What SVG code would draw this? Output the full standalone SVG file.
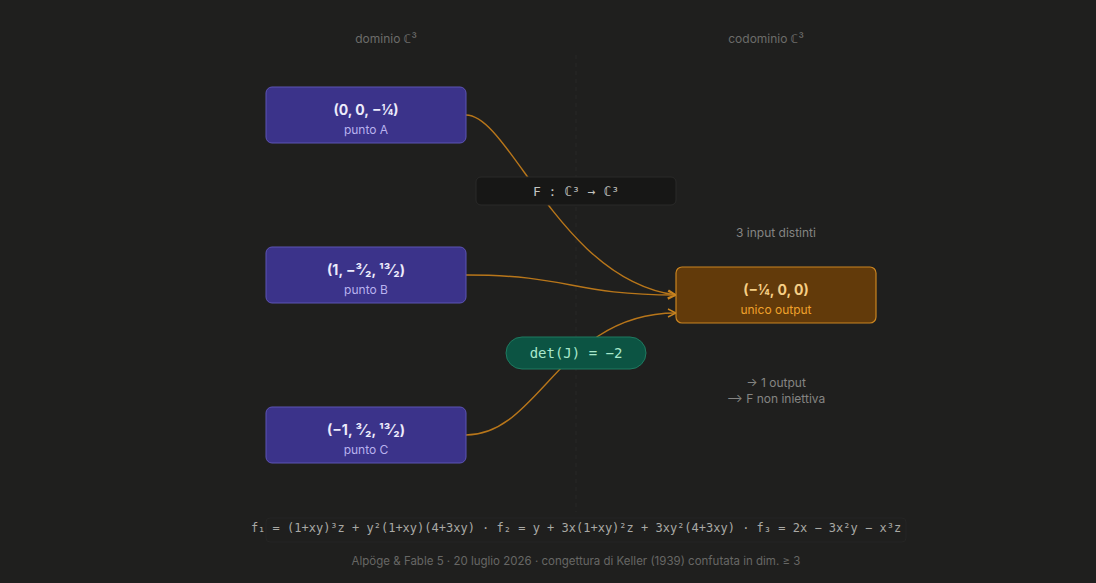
<svg xmlns="http://www.w3.org/2000/svg" width="1096" height="583" viewBox="0 0 1096 583">
<defs>
<style>
.sans{font-family:Inter,"Noto Sans","DejaVu Sans",sans-serif}
.mono{font-family:"DejaVu Sans Mono","Liberation Mono",monospace}
.hdr{font-size:12px;fill:#6c6c6a;text-anchor:middle}
.inp rect{fill:#3b338a;stroke:#5d54b4;stroke-width:1}
.t1{font-size:14px;font-weight:700;fill:#ecebfb;text-anchor:middle}
.t2{font-size:12px;fill:#b9b2ef;text-anchor:middle}
.edge{fill:none;stroke:#b8761a;stroke-width:1.4}
.note{font-size:12px;fill:#858583;text-anchor:middle}
</style>
<marker id="ah" viewBox="0 0 10 10" refX="9" refY="5" markerWidth="10" markerHeight="10" markerUnits="userSpaceOnUse" orient="auto">
<path d="M1,1 L9,5 L1,9" fill="none" stroke="#c98420" stroke-width="1.4"/>
</marker>
</defs>
<rect width="1096" height="583" fill="#1f1f1e"/>
<line x1="576" y1="55" x2="576" y2="512" stroke="#282827" stroke-width="1" stroke-dasharray="4 4"/>
<text class="sans hdr" x="386" y="43">dominio ℂ³</text>
<text class="sans hdr" x="766" y="43">codominio ℂ³</text>
<g id="connectors">
<path class="edge" d="M466,115 C510,115 560,280 676,295" marker-end="url(#ah)"/>
<path class="edge" d="M466,275 C571,275 571,295 676,295" marker-end="url(#ah)"/>
<path class="edge" d="M466,435 C540,435 560,313 676,313" marker-end="url(#ah)"/>
</g>
<g id="label-F">
<rect x="476" y="177" width="200" height="28" rx="5" fill="#171716" stroke="#2a2a29"/>
<text class="mono" x="576" y="196" font-size="13" fill="#c4c4c0" text-anchor="middle">F : ℂ³ → ℂ³</text>
</g>
<g id="nodeA" class="inp">
<rect x="266" y="87" width="200" height="56" rx="6"/>
<text class="sans t1" x="366" y="115">(0, 0, −¼)</text>
<text class="sans t2" x="366" y="134">punto A</text>
</g>
<g id="nodeB" class="inp">
<rect x="266" y="247" width="200" height="56" rx="6"/>
<text class="sans t1" x="366" y="275">(1, −³⁄₂, ¹³⁄₂)</text>
<text class="sans t2" x="366" y="294">punto B</text>
</g>
<g id="nodeC" class="inp">
<rect x="266" y="407" width="200" height="56" rx="6"/>
<text class="sans t1" x="366" y="435">(−1, ³⁄₂, ¹³⁄₂)</text>
<text class="sans t2" x="366" y="454">punto C</text>
</g>
<g id="output">
<rect x="676" y="267" width="200" height="56" rx="6" fill="#623a0a" stroke="#c98420" stroke-width="1.2"/>
<text class="sans" x="776" y="295" font-size="14" font-weight="700" fill="#f6cf86" text-anchor="middle">(−¼, 0, 0)</text>
<text class="sans" x="776" y="314" font-size="12" fill="#f0a22c" text-anchor="middle">unico output</text>
</g>
<g id="det">
<rect x="506" y="337" width="140" height="32" rx="16" fill="#0c5443" stroke="#1f7a60"/>
<text class="mono" x="576" y="358" font-size="14" fill="#a9e8cc" text-anchor="middle">det(J) = −2</text>
</g>
<text class="sans note" x="776" y="237">3 input distinti</text>
<text class="sans note" x="776" y="387">→ 1 output</text>
<text class="sans note" x="776" y="403">⟶ F non iniettiva</text>
<rect x="266" y="518" width="640" height="24" rx="4" fill="#1f1f1e" stroke="#252524"/>
<text class="mono" x="576" y="532" font-size="12" fill="#a9a9a5" text-anchor="middle">f₁ = (1+xy)³z + y²(1+xy)(4+3xy) · f₂ = y + 3x(1+xy)²z + 3xy²(4+3xy) · f₃ = 2x − 3x²y − x³z</text>
<text class="sans" x="576" y="565" font-size="11.5" fill="#676765" text-anchor="middle">Alpöge &amp; Fable 5 · 20 luglio 2026 · congettura di Keller (1939) confutata in dim. ≥ 3</text>
</svg>
